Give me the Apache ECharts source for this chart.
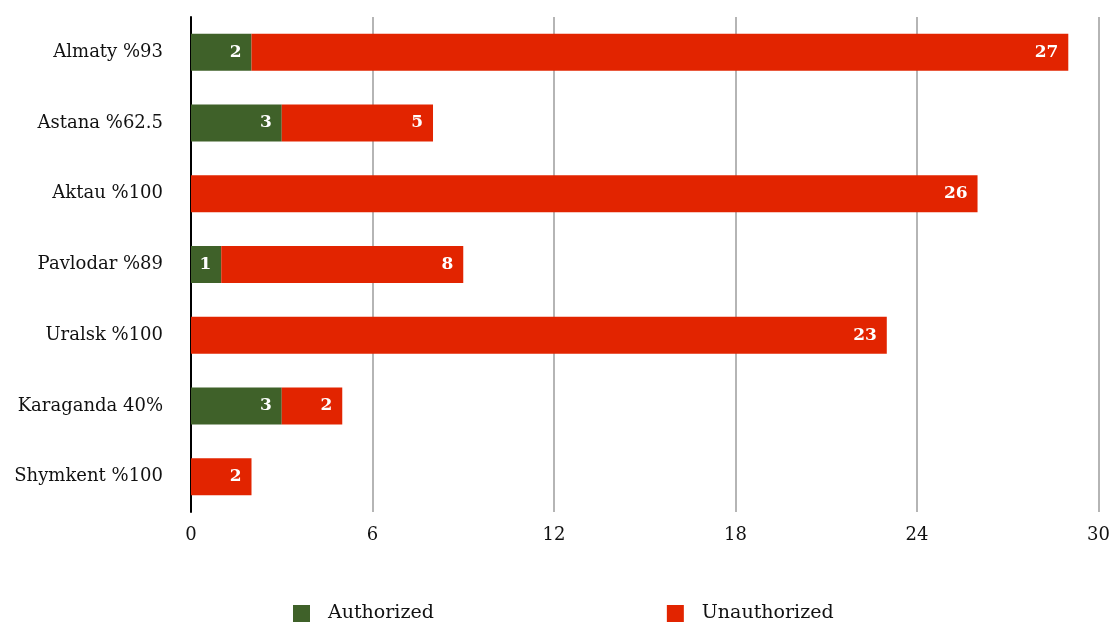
<!DOCTYPE html>
<html><head><meta charset="utf-8">
<script src="https://cdn.jsdelivr.net/npm/echarts@6/dist/echarts.min.js"></script>
<style>html,body{margin:0;padding:0;background:#fff}#c{width:1113px;height:623px}</style>
</head><body><div id="c"></div>
<script>
const categories = ["Almaty %93","Astana %62.5","Aktau %100","Pavlodar %89","Uralsk %100","Karaganda 40%","Shymkent %100"];
const authorized = [2,3,0,1,0,3,0];
const unauthorized = [27,5,26,8,23,2,2];
const xTicks = [0,6,12,18,24,30];
const font = "DejaVu Serif";
const chart = echarts.init(document.getElementById('c'));
const lbl = {show:true, position:'insideRight', color:'#fff', fontWeight:'bold', fontSize:17, fontFamily:font, distance:10,
  formatter: p => p.value ? p.value : ''};
chart.setOption({
  animation:false,
  textStyle:{fontFamily:font},
  grid:{left:191, right:11, top:17, bottom:111},
  xAxis:{type:'value', min:xTicks[0], max:xTicks[xTicks.length-1], interval:6,
    axisLine:{show:false}, axisTick:{show:false},
    axisLabel:{color:'#111', fontSize:18, fontFamily:font, margin:14},
    splitLine:{lineStyle:{color:'#b5b5b5', width:2}}},
  yAxis:{type:'category', data:categories, inverse:true,
    axisLine:{lineStyle:{color:'#000', width:2}}, axisTick:{show:false},
    axisLabel:{color:'#111', fontSize:18, fontFamily:font, margin:28}},
  legend:{left:288, bottom:-5, itemWidth:17, itemHeight:17, itemGap:233, icon:'rect',
    textStyle:{fontSize:19, fontFamily:font, color:'#111', padding:[0,0,0,13]}},
  series:[
    {name:'Authorized', type:'bar', stack:'a', data:authorized, barWidth:37, itemStyle:{color:'#3f6129'}, label:lbl},
    {name:'Unauthorized', type:'bar', stack:'a', data:unauthorized, barWidth:37, itemStyle:{color:'#e22400'}, label:lbl}
  ]
});
</script></body></html>
